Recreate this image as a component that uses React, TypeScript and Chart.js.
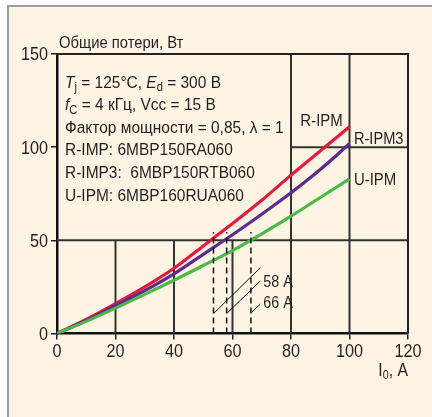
import React, { useEffect, useRef } from "react";
import { Chart, registerables } from "chart.js";

Chart.register(...registerables);

// ---- data ----
const currents = [0, 10, 20, 30, 40, 50, 60, 70, 80, 90, 100];
const rIpm = [0, 7.5, 16, 25, 35, 47, 59, 71.5, 85, 98, 111];
const rIpm3 = [0, 7, 15, 23, 32, 42.5, 53, 64, 75.5, 88, 101.8];
const uIpm = [0, 6.5, 13.6, 21, 28.6, 36.5, 44.5, 53.5, 63, 73, 83];
const seriesNames = ["R-IPM", "R-IPM3", "U-IPM"];

const dashedCurrents = [53.5, 58, 66.3];
const dashedTop = 54.5;
const leaderStarts = [[53.7, 11], [58.2, 11], [66.2, 11]];
const leaderEnds = [[69.6, 35.4], [69.5, 28.2], [69.5, 15.7]];
const currentLabels = ["58 A", "66 A"];

const xTickValues = [0, 20, 40, 60, 80, 100, 120];
const yTickValues = [0, 50, 100, 150];
// partial grid segments
const hGrid = [[50, 0, 120], [100, 80, 120]];
const vGrid = [[20, 0, 50], [40, 0, 50], [60, 0, 50], [80, 0, 150], [100, 0, 150]];

const titleText = "Общие потери, Вт";
const xAxisMain = "I";
const xAxisSub = "0";
const xAxisRest = ", A";
const infoLines = [
  [{ t: "T", i: 1 }, { t: "j", s: 1 }, { t: " = 125°C, " }, { t: "E", i: 1 }, { t: "d", s: 1 }, { t: " = 300 В" }],
  [{ t: "f", i: 1 }, { t: "C", s: 1 }, { t: " = 4 кГц, Vcc = 15 В" }],
  [{ t: "Фактор мощности = 0,85, λ = 1" }],
  [{ t: "R-IMP: 6MBP150RA060" }],
  [{ t: "R-IMP3:  6MBP150RTB060" }],
  [{ t: "U-IPM: 6MBP160RUA060" }],
];

const FONT = "'Liberation Sans', Arial, sans-serif";
const TEXT = "#231f20";

function widthOf(ctx: CanvasRenderingContext2D, t: string, sx: number) {
  return ctx.measureText(t).width * sx;
}
function put(ctx: CanvasRenderingContext2D, t: string, x: number, y: number, sx: number, align = "left") {
  const w = widthOf(ctx, t, sx);
  let left = x;
  if (align === "center") left = x - w / 2;
  else if (align === "right") left = x - w;
  ctx.save();
  ctx.translate(left, y);
  ctx.scale(sx, 1);
  ctx.textAlign = "left";
  ctx.fillText(t, 0, 0);
  ctx.restore();
  return w;
}

function drawRich(ctx: CanvasRenderingContext2D, x: number, y: number, segs: any[], size: number, sx: number) {
  let cx = x;
  for (const seg of segs) {
    const sz = seg.s ? size * 0.72 : size;
    ctx.font = `${seg.i ? "italic " : ""}${sz}px ${FONT}`;
    cx += put(ctx, seg.t, cx, y + (seg.s ? size * 0.22 : 0), sx);
  }
}

const decor = {
  id: "decor",
  beforeDatasetsDraw(chart: any) {
    const { ctx, chartArea: a, scales } = chart;
    const xs = scales.x, ys = scales.y;
    ctx.save();
    ctx.strokeStyle = "#333";
    ctx.lineWidth = 2;
    ctx.beginPath();
    for (const [v, x0, x1] of hGrid) {
      const py = ys.getPixelForValue(v);
      ctx.moveTo(xs.getPixelForValue(x0), py);
      ctx.lineTo(xs.getPixelForValue(x1), py);
    }
    for (const [v, y0, y1] of vGrid) {
      const px = xs.getPixelForValue(v);
      ctx.moveTo(px, ys.getPixelForValue(y0));
      ctx.lineTo(px, ys.getPixelForValue(y1));
    }
    ctx.stroke();
    ctx.strokeStyle = "#222";
    ctx.lineWidth = 2;
    ctx.beginPath();
    ctx.moveTo(a.left, a.top);
    ctx.lineTo(a.right, a.top);
    ctx.lineTo(a.right, a.bottom);
    ctx.stroke();
    ctx.restore();
  },
  afterDatasetsDraw(chart: any) {
    const { ctx, chartArea: a, scales } = chart;
    const xs = scales.x, ys = scales.y;
    ctx.save();
    ctx.fillStyle = TEXT;
    ctx.textBaseline = "alphabetic";
    // tick labels
    ctx.font = `18px ${FONT}`;
    for (const t of ys.ticks) {
      put(ctx, String(t.value), a.left - 9, ys.getPixelForValue(t.value) + 6.4, 0.9, "right");
    }
    for (const t of xs.ticks) {
      put(ctx, String(t.value), xs.getPixelForValue(t.value), a.bottom + 23.2, 0.9, "center");
    }
    // title
    ctx.font = `17px ${FONT}`;
    put(ctx, titleText, a.left + 2, a.top - 6, 0.87);
    // info block
    infoLines.forEach((line, i) => {
      drawRich(ctx, a.left + 8, a.top + 33.5 + i * 22.6, line, 17.4, 0.89);
    });
    // series labels
    ctx.font = `17px ${FONT}`;
    put(ctx, seriesNames[0], xs.getPixelForValue(83.2), ys.getPixelForValue(111.6), 0.88);
    put(ctx, seriesNames[1], xs.getPixelForValue(101.5), ys.getPixelForValue(101.8), 0.86);
    put(ctx, seriesNames[2], xs.getPixelForValue(101.5), ys.getPixelForValue(79.5), 0.88);
    // current labels
    ctx.font = `16.5px ${FONT}`;
    put(ctx, currentLabels[0], xs.getPixelForValue(70.5), ys.getPixelForValue(25.2), 0.87);
    put(ctx, currentLabels[1], xs.getPixelForValue(70.5), ys.getPixelForValue(13.5), 0.87);
    // x axis title
    const base = a.bottom + 42.5;
    ctx.font = `17.5px ${FONT}`;
    const wI = widthOf(ctx, xAxisMain, 0.9);
    const wR = widthOf(ctx, xAxisRest, 0.9);
    ctx.font = `12px ${FONT}`;
    const wS = widthOf(ctx, xAxisSub, 0.9);
    const x0 = a.right - (wI + wS + wR);
    ctx.font = `17.5px ${FONT}`;
    put(ctx, xAxisMain, x0, base, 0.9);
    put(ctx, xAxisRest, x0 + wI + wS, base, 0.9);
    ctx.font = `12px ${FONT}`;
    put(ctx, xAxisSub, x0 + wI, base + 3, 0.9);
    ctx.restore();
  },
};

export default function App() {
  const ref = useRef<HTMLCanvasElement>(null);
  useEffect(() => {
    document.body.style.margin = "0";
    const pts = (ys: number[]) => currents.map((x, i) => ({ x, y: ys[i] }));
    const lineDs = (label: string, data: number[], color: string) => ({
      label,
      data: pts(data),
      borderColor: color,
      borderWidth: 3.2,
      pointRadius: 0,
      cubicInterpolationMode: "monotone" as const,
      fill: false,
    });
    const datasets: any[] = [
      ...dashedCurrents.map((c) => ({
        data: [{ x: c, y: 0 }, { x: c, y: dashedTop }],
        borderColor: "#111",
        borderWidth: 1.5,
        borderDash: [6, 4],
        pointRadius: 0,
      })),
      ...leaderStarts.map((s, i) => ({
        data: [{ x: s[0], y: s[1] }, { x: leaderEnds[i][0], y: leaderEnds[i][1] }],
        borderColor: "#111",
        borderWidth: 1,
        pointRadius: 0,
      })),
      lineDs(seriesNames[2], uIpm, "#4cb947"),
      lineDs(seriesNames[1], rIpm3, "#5b2d8e"),
      lineDs(seriesNames[0], rIpm, "#e8193f"),
    ];
    const chart = new Chart(ref.current!, {
      type: "line",
      data: { datasets },
      plugins: [decor],
      options: {
        animation: false,
        responsive: false,
        layout: { padding: { left: 0, top: 54, right: 24, bottom: 0 } },
        plugins: { legend: { display: false }, tooltip: { enabled: false } },
        scales: {
          x: {
            type: "linear",
            min: 0,
            max: 120,
            afterFit: (s: any) => { s.height = 83.5; },
            afterBuildTicks: (s: any) => { s.ticks = xTickValues.map((v) => ({ value: v })); },
            grid: { drawOnChartArea: false, drawTicks: true, tickLength: 6, color: "#222", lineWidth: 1.5 },
            border: { display: true, color: "#111", width: 2.5 },
            ticks: { display: false },
          },
          y: {
            type: "linear",
            min: 0,
            max: 150,
            afterFit: (s: any) => { s.width = 57; },
            afterBuildTicks: (s: any) => { s.ticks = yTickValues.map((v) => ({ value: v })); },
            grid: { drawOnChartArea: false, drawTicks: true, tickLength: 6, color: "#222", lineWidth: 1.5 },
            border: { display: true, color: "#111", width: 2.5 },
            ticks: { display: false },
          },
        },
      },
    });
    return () => chart.destroy();
  }, []);
  return (
    <div style={{ position: "relative", width: 432, height: 417, background: "#fff", overflow: "hidden" }}>
      <div
        style={{
          position: "absolute",
          left: 7,
          top: 5,
          width: 425,
          height: 412,
          boxSizing: "border-box",
          borderLeft: "2.5px solid #9c9ca4",
          borderTop: "2px solid #9c9ca4",
          background: "#fdf4e3",
        }}
      />
      <canvas ref={ref} width={432} height={417} style={{ position: "absolute", left: 0, top: 0, display: "block" }} />
    </div>
  );
}
